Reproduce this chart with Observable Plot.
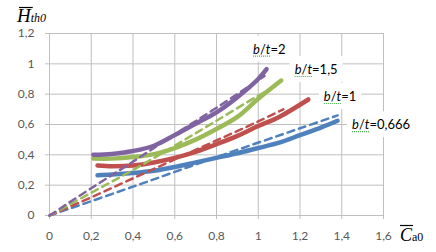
<!DOCTYPE html>
<html><head><meta charset="utf-8">
<script src="https://cdn.jsdelivr.net/npm/d3@7"></script>
<script src="https://cdn.jsdelivr.net/npm/@observablehq/plot@0.6"></script>
<style>html,body{margin:0;padding:0;background:#fff;overflow:hidden}svg{display:block}</style>
</head><body><div id="chart"></div>
<script>
// Series names and colours
const series = ["b/t=0,666", "b/t=1", "b/t=1,5", "b/t=2"];
const colors = ["#4f81bd", "#c0504d", "#9bbb59", "#8064a2"];

// Solid curves
const blueSolidX   = [0.23, 0.3, 0.4, 0.5, 0.6, 0.7, 0.8, 0.9, 1.0, 1.1, 1.2, 1.3, 1.38];
const blueSolidY   = [0.265, 0.27, 0.28, 0.295, 0.32, 0.35, 0.38, 0.41, 0.445, 0.48, 0.53, 0.58, 0.625];
const redSolidX    = [0.23, 0.3, 0.4, 0.5, 0.6, 0.7, 0.8, 0.9, 1.0, 1.1, 1.24];
const redSolidY    = [0.33, 0.325, 0.33, 0.35, 0.38, 0.42, 0.47, 0.525, 0.59, 0.65, 0.765];
const greenSolidX  = [0.21, 0.3, 0.4, 0.5, 0.6, 0.7, 0.8, 0.9, 1.0, 1.11];
const greenSolidY  = [0.375, 0.375, 0.385, 0.405, 0.445, 0.5, 0.57, 0.65, 0.77, 0.89];
const purpleSolidX = [0.21, 0.3, 0.4, 0.5, 0.6, 0.7, 0.8, 0.9, 1.0, 1.04];
const purpleSolidY = [0.4, 0.405, 0.425, 0.46, 0.53, 0.605, 0.68, 0.78, 0.9, 0.965];

// Dashed lines
const blueDashX   = [0, 0.4, 0.8, 1.2, 1.38];
const blueDashY   = [0, 0.19, 0.385, 0.575, 0.66];
const redDashX    = [0, 0.2, 0.4, 0.6, 0.8, 1.0, 1.12];
const redDashY    = [0, 0.12, 0.245, 0.37, 0.495, 0.62, 0.7];
const greenDashX  = [0, 0.2, 0.4, 0.6, 0.8, 1.0, 1.08];
const greenDashY  = [0, 0.15, 0.3, 0.46, 0.625, 0.79, 0.85];
const purpleDashX = [0, 0.2, 0.4, 0.6, 0.8, 1.03];
const purpleDashY = [0, 0.18, 0.355, 0.535, 0.71, 0.92];

// Ticks
const xTicks = [0, 0.2, 0.4, 0.6, 0.8, 1, 1.2, 1.4, 1.6];
const yTicks = [0, 0.2, 0.4, 0.6, 0.8, 1, 1.2];

const solidXs = [blueSolidX, redSolidX, greenSolidX, purpleSolidX];
const solidYs = [blueSolidY, redSolidY, greenSolidY, purpleSolidY];
const dashXs = [blueDashX, redDashX, greenDashX, purpleDashX];
const dashYs = [blueDashY, redDashY, greenDashY, purpleDashY];

const toRows = (xs, ys) => series.flatMap((s, i) => xs[i].map((x, j) => ({series: s, x, y: ys[i][j]})));
const solidRows = toRows(solidXs, solidYs);
const dashRows = toRows(dashXs, dashYs);

const fmt = d => String(d).replace(".", ",");
const grid = "#bfbfbf";

const chart = Plot.plot({
  width: 436, height: 252,
  marginLeft: 49, marginRight: 53, marginTop: 33, marginBottom: 37,
  style: {fontFamily: "Lato, 'Liberation Sans', sans-serif", fontSize: "12px", color: "#595959", background: "#fff"},
  x: {domain: [0, 1.6]},
  y: {domain: [0, 1.2]},
  color: {domain: series, range: colors},
  marks: [
    Plot.gridX(xTicks, {stroke: grid, strokeOpacity: 1}),
    Plot.gridY(yTicks, {stroke: grid, strokeOpacity: 1}),
    Plot.axisX(xTicks, {tickSize: 4, tickPadding: 12, stroke: grid, tickFormat: fmt, label: null, fill: "#595959"}),
    Plot.axisY(yTicks, {tickSize: 4, tickPadding: 11, stroke: grid, tickFormat: fmt, label: null, fill: "#595959"}),
    Plot.ruleX([0], {stroke: grid}),
    Plot.ruleY([0], {stroke: grid}),
    Plot.line(solidRows, {x: "x", y: "y", z: "series", stroke: "series", strokeWidth: 4.5, curve: "catmull-rom", strokeLinecap: "round"}),
    Plot.line(dashRows, {x: "x", y: "y", z: "series", stroke: "series", strokeWidth: 2.5, strokeDasharray: "7,5", curve: "catmull-rom"})
  ]
});
document.getElementById("chart").append(chart);

const svg = d3.select(chart);
const sx = chart.scale("x"), sy = chart.scale("y");

// Series labels placed relative to each solid curve's end point
const labelOffsets = [[15, 9], [16, 2], [14, -6], [-13, -15]];
const lg = svg.append("g").attr("font-family", "Lato, 'Liberation Sans', sans-serif").attr("font-size", 13)
  .attr("fill", "#000").attr("text-anchor", "start");
series.forEach((s, i) => {
  const xs = solidXs[i], ys = solidYs[i];
  const px = sx.apply(xs[xs.length - 1]) + labelOffsets[i][0];
  const py = sy.apply(ys[ys.length - 1]) + labelOffsets[i][1];
  const t = lg.append("text").attr("x", px).attr("y", py);
  t.append("tspan").attr("font-style", "italic").text(s[0]);
  t.append("tspan").text(s[1]);
  t.append("tspan").attr("font-style", "italic").text(s[2]);
  t.append("tspan").text(s.slice(3));
  const bb = t.node().getBBox();
  lg.insert("rect", () => t.node())
    .attr("x", bb.x - 5).attr("y", bb.y - 5)
    .attr("width", bb.width + 10).attr("height", bb.height + 10)
    .attr("fill", "#fff");
  const w = t.node().getSubStringLength(0, 3);
  lg.append("line").attr("x1", px).attr("x2", px + w).attr("y1", py + 2.5).attr("y2", py + 2.5)
    .attr("stroke", "#3cb043").attr("stroke-width", 1.2).attr("stroke-dasharray", "1,1");
});

// Axis titles
const tg = svg.append("g").attr("font-family", "'Liberation Serif', 'DejaVu Serif', serif")
  .attr("fill", "#000").attr("text-anchor", "start");
const yt = tg.append("text").attr("x", 17).attr("y", 22);
yt.append("tspan").attr("font-size", 19).attr("font-style", "italic").text("H");
yt.append("tspan").attr("font-size", 12).attr("font-style", "italic").text("th0");
const wH = yt.node().getSubStringLength(0, 1);
tg.append("line").attr("x1", 19).attr("x2", 17 + wH + 2).attr("y1", 7.5).attr("y2", 7.5).attr("stroke", "#000").attr("stroke-width", 1.2);

const xt = tg.append("text").attr("x", 400).attr("y", 241);
xt.append("tspan").attr("font-size", 18).attr("font-style", "italic").text("C");
xt.append("tspan").attr("font-size", 12).text("a0");
const wC = xt.node().getSubStringLength(0, 1);
tg.append("line").attr("x1", 400).attr("x2", 400 + wC + 1).attr("y1", 225.5).attr("y2", 225.5).attr("stroke", "#000").attr("stroke-width", 1.2);
</script>
</body></html>
